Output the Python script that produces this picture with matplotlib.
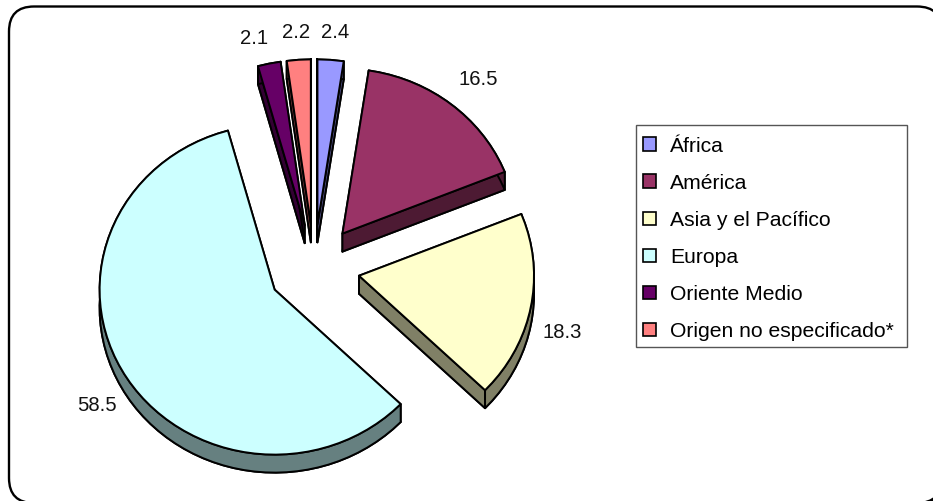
import numpy as np
import matplotlib
matplotlib.use("Agg")
import matplotlib.pyplot as plt
from matplotlib.patches import FancyBboxPatch, Patch, Polygon, Rectangle

plt.rcParams["font.family"] = ["Liberation Sans", "DejaVu Sans"]

# Share of arrivals by region of origin (%)
regions = ["África", "América", "Asia y el Pacífico", "Europa",
           "Oriente Medio", "Origen no especificado*"]
shares = [2.4, 16.5, 18.3, 58.5, 2.1, 2.2]
top_colors = ["#9999FF", "#993366", "#FFFFCC", "#CCFFFF", "#660066", "#FF8080"]
side_colors = ["#4D4D80", "#4D1A33", "#808066", "#668080", "#330033", "#804040"]

# Pie layout, in pixels of the 933x501 canvas
PIE_X, PIE_Y = 314.0, 267.5
RX, RY = 175.0, 165.0
DEPTH = 18.0
EXPLODE = 0.262
ARC_STEP = 3.5
LINE = 1.4
FONT = 14.6
LEGEND_FONT = 15.2
label_offsets = [(4, -27), (27.5, -24.5), (31, 25.5), (-27, 31.5), (-15.5, -25.5), (-3, -27)]

fig = plt.figure(figsize=(9.33, 5.01), dpi=100)
ax = fig.add_axes([0, 0, 1, 1])
ax.set_xlim(0, 933)
ax.set_ylim(501, 0)
ax.axis("off")

# Outer rounded border runs off the canvas on the right and bottom
ax.add_patch(Rectangle((918, 488), 16, 14, fc="black", ec="none", zorder=0))
ax.add_patch(FancyBboxPatch((9, 6.5), 933, 496.5, boxstyle="round,pad=0,rounding_size=25",
                            fc="white", ec="black", lw=1.7, zorder=0.5))


def rim(cx, cy, degrees):
    """Points on the ellipse, angles running clockwise from 12 o'clock."""
    a = np.radians(degrees)
    return np.column_stack([cx + RX * np.sin(a), cy - RY * np.cos(a)])


edges = np.cumsum([0.0] + shares) / sum(shares) * 360.0
for i, share in enumerate(shares):
    start, end = edges[i], edges[i + 1]
    mid = np.radians((start + end) / 2)
    cx = PIE_X + EXPLODE * RX * np.sin(mid)
    cy = PIE_Y - EXPLODE * RY * np.cos(mid)
    n = max(2, int(round((end - start) / ARC_STEP)) + 1)
    arc = rim(cx, cy, np.linspace(start, end, n))
    centre = np.array([[cx, cy]])
    drop = np.array([0, DEPTH])
    style = dict(ec="black", lw=LINE, joinstyle="round")

    # Side walls first, then the top face over them
    base = 2 + i * 0.01
    ax.add_patch(Polygon(np.vstack([centre, arc]) + drop, fc=side_colors[i], zorder=base, **style))
    for edge_pt in (arc[0], arc[-1]):
        wall = np.array([[cx, cy], edge_pt, edge_pt + drop, [cx, cy + DEPTH]])
        ax.add_patch(Polygon(wall, fc=side_colors[i], zorder=base, **style))
    ax.add_patch(Polygon(np.vstack([arc, (arc + drop)[::-1]]), fc=side_colors[i], zorder=base, **style))
    ax.add_patch(Polygon(np.vstack([centre, arc]), fc=top_colors[i], zorder=base + 0.005, **style))

    rim_mid = rim(cx, cy, np.array([(start + end) / 2]))[0]
    dx, dy = label_offsets[i]
    ax.text(rim_mid[0] + dx, rim_mid[1] + dy, f"{share:.1f}", ha="center", va="center",
            fontsize=FONT, color="#111111", zorder=5)

# Legend box, with the entries laid out inside it
ax.add_patch(Rectangle((636, 125), 271, 222, fc="white", ec="#555555", lw=1.0, zorder=6))
handles = [Patch(fc=c, ec="black", lw=1.2) for c in top_colors]
leg = ax.legend(handles, regions, loc="upper left", bbox_to_anchor=(643 / 933, 1 - 136.5 / 501),
                bbox_transform=fig.transFigure, fontsize=LEGEND_FONT, frameon=False, borderaxespad=0,
                borderpad=0, labelspacing=0.857, handlelength=0.6, handleheight=0.6,
                handletextpad=0.68)
leg.set_zorder(7)

fig.savefig("out.png", dpi=100, facecolor="white")
